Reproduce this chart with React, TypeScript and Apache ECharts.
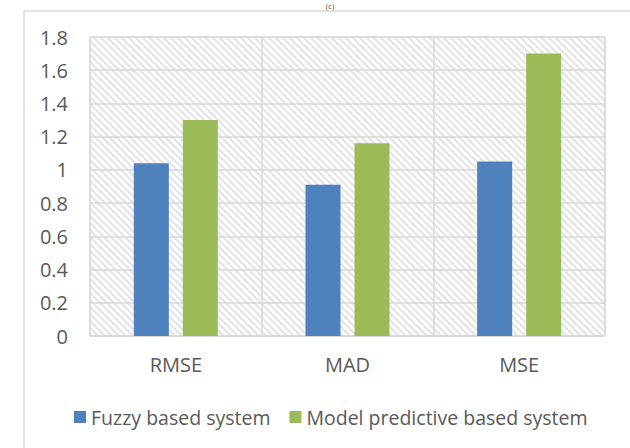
import React, { useEffect, useRef } from "react";
import * as echarts from "echarts";

const categories = ["RMSE", "MAD", "MSE"];
const fuzzyValues = [1.04, 0.91, 1.05];
const mpcValues = [1.3, 1.16, 1.7];
const seriesNames = ["Fuzzy based system", "Model predictive based system"];
const chartTitle = "(c)";

function makeHatch(): HTMLCanvasElement {
  const s = 7;
  const c = document.createElement("canvas");
  c.width = s;
  c.height = s;
  const ctx = c.getContext("2d")!;
  ctx.fillStyle = "#ffffff";
  ctx.fillRect(0, 0, s, s);
  ctx.strokeStyle = "#e6e6e6";
  ctx.lineWidth = 2.4;
  ctx.beginPath();
  ctx.moveTo(-1, -1);
  ctx.lineTo(s + 1, s + 1);
  ctx.moveTo(-s - 1, -1);
  ctx.lineTo(1, s + 1);
  ctx.moveTo(s - 1, -1);
  ctx.lineTo(2 * s + 1, s + 1);
  ctx.stroke();
  return c;
}

export default function App() {
  const ref = useRef<HTMLDivElement>(null);
  useEffect(() => {
    if (!ref.current) return;
    const chart = echarts.init(ref.current, null, { renderer: "svg" });
    const font = "'Open Sans', 'Noto Sans', sans-serif";
    chart.setOption({
      animation: false,
      backgroundColor: "#ffffff",
      textStyle: { fontFamily: font },
      graphic: [
        {
          type: "rect",
          shape: { x: 24, y: 11, width: 700, height: 600 },
          style: { fill: "none", stroke: "#d9d9d9", lineWidth: 1.5 },
          silent: true,
        },
        {
          type: "text",
          x: 330,
          y: 1,
          style: {
            text: chartTitle,
            fontSize: 8,
            fill: "#595959",
            fontFamily: font,
            align: "center",
            verticalAlign: "top",
          },
        },
      ],
      grid: {
        left: 90,
        right: 25,
        top: 37,
        bottom: 112,
        show: true,
        borderColor: "#d9d9d9",
        borderWidth: 1,
        backgroundColor: {
          image: makeHatch(),
          repeat: "repeat",
          imageWidth: 7,
          imageHeight: 7,
        } as any,
      },
      legend: {
        top: 402,
        left: 69,
        itemWidth: 12,
        itemHeight: 12,
        itemGap: 19,
        icon: "rect",
        textStyle: { fontSize: 19.5, color: "#595959", fontFamily: font },
        data: seriesNames,
      },
      xAxis: {
        type: "category",
        data: categories,
        axisLine: { lineStyle: { color: "#d9d9d9", width: 1.5 } },
        axisTick: { show: false },
        splitLine: { show: true, lineStyle: { color: "#d9d9d9", width: 1.5 } },
        axisLabel: { fontSize: 20, color: "#595959", margin: 18, fontFamily: font },
      },
      yAxis: {
        type: "value",
        min: 0,
        max: 1.8,
        interval: 0.2,
        axisLine: { show: false },
        axisTick: { show: false },
        splitLine: { lineStyle: { color: "#d9d9d9", width: 1.5 } },
        axisLabel: { fontSize: 20, color: "#595959", margin: 22, fontFamily: font },
      },
      series: [
        {
          name: seriesNames[0],
          type: "bar",
          data: fuzzyValues,
          barWidth: 35,
          barGap: "40%",
          itemStyle: { color: "#4f81bd" },
        },
        {
          name: seriesNames[1],
          type: "bar",
          data: mpcValues,
          barWidth: 35,
          barGap: "40%",
          itemStyle: { color: "#9bbb59" },
        },
      ],
    });
    return () => chart.dispose();
  }, []);
  return <div ref={ref} style={{ width: 630, height: 448, position: "absolute", left: 0, top: 0 }} />;
}
